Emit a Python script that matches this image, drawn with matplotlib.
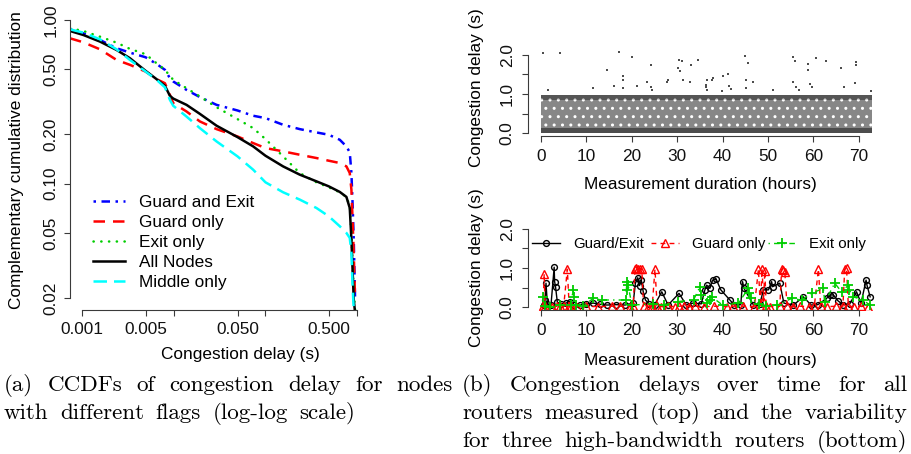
import matplotlib
matplotlib.use("Agg")
import matplotlib.pyplot as plt

plt.rcParams['font.family'] = ['Liberation Sans', 'DejaVu Sans']
plt.rcParams['hatch.linewidth'] = 1.0

# ---------------- data: (a) CCDFs, log-log ----------------
ccdf_delay = [0.000733, 0.001025, 0.00156, 0.00237, 0.00332, 0.00492, 0.00649, 0.00801, 0.00908, 0.00988,
              0.0138, 0.0193, 0.0294, 0.0498, 0.0739, 0.1008, 0.157, 0.239, 0.364, 0.496,
              0.655, 0.774, 0.842, 0.878, 0.901, 0.931, 0.963]
ccdf_guard_exit = [0.877, 0.829, 0.755, 0.672, 0.632, 0.592, 0.539, 0.496, 0.441, 0.421,
                   0.374, 0.338, 0.303, 0.280, 0.260, 0.2515, 0.229, 0.2154, 0.2056, 0.199,
                   0.1854, 0.1689, 0.1553, 0.1161, 0.0799, 0.0456, 0.0196]
ccdf_guard_only = [0.773, 0.731, 0.662, 0.570, 0.532, 0.484, 0.435, 0.411, 0.349, 0.310,
                   0.276, 0.240, 0.2154, 0.1943, 0.1770, 0.1650, 0.1575, 0.1502, 0.1434, 0.1381,
                   0.1337, 0.1275, 0.1161, 0.0919, 0.0632, 0.0378, 0.0196]
ccdf_exit_only = [0.890, 0.857, 0.791, 0.727, 0.666, 0.618, 0.544, 0.496, 0.455, 0.431,
                  0.383, 0.341, 0.293, 0.248, 0.2185, 0.1872, 0.1468, 0.1161, 0.1019, 0.0950,
                  0.0886, 0.0830, 0.0727, 0.0500, 0.0344, 0.0215, 0.0170]
ccdf_all_nodes = [0.857, 0.810, 0.738, 0.656, 0.584, 0.489, 0.435, 0.396, 0.344, 0.331,
                  0.303, 0.267, 0.226, 0.1925, 0.1689, 0.1481, 0.1275, 0.1135, 0.1033, 0.0963,
                  0.0890, 0.0830, 0.0710, 0.0456, 0.0313, 0.0196, 0.0163]
ccdf_middle_only = [0.877, 0.837, 0.762, 0.662, 0.570, 0.484, 0.431, 0.388, 0.325, 0.299,
                    0.257, 0.2185, 0.1811, 0.1468, 0.1217, 0.1019, 0.0886, 0.0799, 0.0710, 0.0632,
                    0.0549, 0.0500, 0.0466, 0.0378, 0.0248, 0.0170, 0.0148]

a_xticks = [0.001, 0.005, 0.01, 0.05, 0.1, 0.5, 1.0]
a_xticklabels = ['0.001', '0.005', '', '0.050', '', '0.500', '']
a_yticks = [0.02, 0.05, 0.1, 0.2, 0.5, 1.0]
a_yticklabels = ['0.02', '0.05', '0.10', '0.20', '0.50', '1.00']

# ---------------- data: (b, top) all routers over time ----------------
band_hours = [0.0, 72.8]
band_solid_top = 0.12      # nearly solid strip of samples close to zero
band_dense_low = 0.84      # dense strip just below 1 s
band_dense_high = 0.97
outlier_hours = [0.37, 4.18, 1.47, 11.52, 14.60, 16.14, 17.09, 18.12, 18.12, 18.12,
                 20.10, 21.06, 23.26, 24.14, 24.21, 24.36, 27.66, 28.03, 30.23, 30.45,
                 30.59, 30.96, 31.33, 32.80, 32.94, 34.63, 36.32, 36.39, 36.46, 36.46,
                 37.56, 37.93, 39.77, 40.13, 41.23, 41.45, 41.75, 44.90, 45.12, 45.12,
                 45.63, 46.74, 51.14, 55.54, 55.91, 55.54, 56.27, 56.79, 58.84, 58.84,
                 59.21, 59.79, 60.68, 62.73, 66.18, 66.76, 69.11, 69.33, 69.33, 72.63]
outlier_delay = [2.05, 2.05, 1.11, 1.15, 1.61, 1.21, 2.07, 1.45, 1.37, 1.15,
                 1.94, 1.21, 1.32, 1.75, 1.18, 1.09, 1.32, 1.35, 1.67, 1.88,
                 1.58, 1.84, 1.37, 1.30, 1.75, 1.88, 1.18, 1.24, 1.35, 1.11,
                 1.37, 1.40, 1.07, 1.45, 1.52, 1.21, 1.13, 1.98, 1.35, 1.15,
                 1.79, 1.32, 1.09, 1.95, 1.84, 1.32, 1.18, 1.09, 1.78, 1.62,
                 1.26, 1.18, 1.92, 1.84, 1.67, 1.18, 1.28, 1.81, 1.75, 1.07]

# ---------------- data: (b, bottom) three high-bandwidth routers ----------------
ge_hours = [0.6, 0.9, 1.1, 1.4, 2.2, 2.9, 3.0, 3.2, 3.6, 4.5,
            5.5, 6.4, 7.2, 8.5, 10.0, 11.5, 13.0, 14.5, 16.5, 18.5,
            20.3, 20.8, 21.3, 21.7, 22.1, 22.5, 23.0, 23.8, 25.0, 26.6,
            28.0, 30.4, 32.0, 33.5, 35.3, 36.1, 36.5, 37.2, 37.8, 38.6,
            39.6, 41.6, 42.6, 44.0, 44.4, 44.7, 46.8, 48.2, 49.0, 50.1,
            50.8, 51.0, 52.6, 53.5, 55.6, 57.8, 59.5, 61.0, 62.9, 63.6,
            64.4, 65.4, 66.5, 68.0, 69.5, 70.5, 71.6, 71.8, 72.5]
ge_delay = [0.05, 0.18, 0.61, 0.08, 0.05, 1.02, 0.65, 0.52, 0.12, 0.08,
            0.10, 0.14, 0.06, 0.05, 0.08, 0.10, 0.07, 0.05, 0.06, 0.05,
            0.10, 0.61, 0.75, 0.55, 0.69, 0.40, 0.18, 0.08, 0.05, 0.39,
            0.05, 0.35, 0.05, 0.10, 0.08, 0.44, 0.56, 0.48, 0.69, 0.71,
            0.44, 0.18, 0.05, 0.06, 0.65, 0.48, 0.05, 0.08, 0.44, 0.44,
            0.65, 0.52, 0.61, 0.10, 0.05, 0.26, 0.05, 0.06, 0.22, 0.31,
            0.31, 0.16, 0.06, 0.08, 0.39, 0.10, 0.69, 0.56, 0.26]
go_hours = [0.5, 0.7, 0.9, 2.5, 3.5, 4.2, 5.0, 5.8, 6.2, 6.6,
            8.0, 10.0, 12.5, 15.6, 17.4, 19.6, 20.3, 20.7, 21.0, 21.4,
            21.8, 22.2, 22.6, 23.5, 24.5, 25.1, 25.6, 26.5, 28.0, 29.5,
            30.5, 31.5, 32.5, 34.0, 36.0, 38.0, 41.0, 42.4, 44.6, 47.0,
            47.9, 48.3, 48.7, 49.0, 49.3, 49.6, 50.5, 52.6, 53.0, 53.4,
            53.7, 54.2, 55.5, 57.0, 59.0, 60.2, 61.1, 61.6, 63.0, 65.0,
            66.5, 66.9, 67.3, 67.7, 69.0, 70.5, 72.0]
go_delay = [0.02, 0.85, 0.02, 0.01, 0.02, 0.03, 0.02, 0.97, 0.03, 0.02,
            0.01, 0.02, 0.01, 0.02, 0.02, 0.01, 0.03, 0.97, 0.99, 0.97,
            0.98, 0.97, 0.02, 0.01, 0.02, 0.97, 0.02, 0.01, 0.02, 0.01,
            0.02, 0.03, 0.01, 0.02, 0.01, 0.02, 0.01, 0.02, 0.02, 0.01,
            0.97, 0.02, 0.98, 0.15, 0.92, 0.02, 0.01, 0.02, 0.97, 0.95,
            0.90, 0.02, 0.01, 0.02, 0.01, 0.02, 0.97, 0.02, 0.01, 0.02,
            0.02, 0.98, 0.99, 0.02, 0.01, 0.02, 0.01]
eo_hours = [0.5, 0.8, 2.0, 4.2, 6.5, 7.1, 7.2, 7.6, 9.3, 11.5,
            13.4, 18.7, 18.9, 19.0, 19.2, 20.0, 24.7, 27.0, 30.2, 33.6,
            35.0, 35.3, 36.5, 37.2, 37.6, 40.0, 43.5, 45.7, 45.9, 46.3,
            48.0, 49.5, 52.0, 55.2, 57.4, 59.6, 62.2, 62.5, 64.7, 66.2,
            67.7, 67.9, 68.8, 71.0, 72.4]
eo_delay = [0.26, 0.02, 0.01, 0.05, 0.04, 0.44, 0.26, 0.05, 0.03, 0.22,
            0.18, 0.18, 0.65, 0.44, 0.56, 0.05, 0.08, 0.05, 0.14, 0.18,
            0.52, 0.31, 0.10, 0.18, 0.26, 0.05, 0.10, 0.48, 0.35, 0.22,
            0.08, 0.03, 0.05, 0.22, 0.18, 0.35, 0.48, 0.12, 0.61, 0.39,
            0.56, 0.44, 0.26, 0.18, 0.05]

hour_ticks = [0, 10, 20, 30, 40, 50, 60, 70]
delay_ticks = [0.0, 0.5, 1.0, 1.5, 2.0]
delay_ticklabels = ['0.0', '', '1.0', '', '2.0']

caption_a = ["(a) CCDFs of congestion delay for nodes",
             "with different flags (log-log scale)"]
caption_b = ["(b) Congestion delays over time for all",
             "routers measured (top) and the variability",
             "for three high-bandwidth routers (bottom)"]

# ---------------- figure ----------------
W, H, DPI = 912, 454, 100
fig = plt.figure(figsize=(W / DPI, H / DPI), dpi=DPI)
FS = 12.4
LEG_B_FS = 10.8
AX_COL = '#3a3a3a'


def fx(x):
    return x / W


def fy(y):
    return 1 - y / H


def add_px_axes(x0, y0, x1, y1):
    return fig.add_axes([fx(x0), fy(y1), (x1 - x0) / W, (y1 - y0) / H])


def r_style(ax, xbounds, ybounds, pad):
    for s in ['top', 'right']:
        ax.spines[s].set_visible(False)
    ax.spines['left'].set_bounds(*ybounds)
    ax.spines['bottom'].set_bounds(*xbounds)
    for s in ['left', 'bottom']:
        ax.spines[s].set_color(AX_COL)
        ax.spines[s].set_linewidth(0.8)
    ax.minorticks_off()
    ax.tick_params(direction='out', length=4.5, width=0.8, color=AX_COL,
                   labelsize=FS, pad=pad, labelcolor='#111111')
    ax.tick_params(axis='y', labelrotation=90)
    for lab in ax.get_yticklabels():
        lab.set_va('center')


# ----- (a) -----
axA = add_px_axes(70, 15, 360, 310)
axA.set_xscale('log')
axA.set_yscale('log')
axA.set_xlim(0.000733, 1.09)
axA.set_ylim(0.0169, 1.073)
lw = 1.8
axA.plot(ccdf_delay, ccdf_guard_exit, color='#0000ff', lw=lw, dashes=(1.0, 2.2, 3.4, 2.2),
         label='Guard and Exit')
axA.plot(ccdf_delay, ccdf_guard_only, color='#ff0000', lw=lw, dashes=(4.6, 3.2),
         label='Guard only')
axA.plot(ccdf_delay, ccdf_exit_only, color='#00cd00', lw=lw, dashes=(0.1, 3.0),
         dash_capstyle='round', label='Exit only')
axA.plot(ccdf_delay, ccdf_all_nodes, color='black', lw=lw, label='All Nodes')
axA.plot(ccdf_delay, ccdf_middle_only, color='#00ffff', lw=lw, dashes=(5.4, 2.8),
         label='Middle only')
axA.set_xticks(a_xticks, a_xticklabels)
axA.set_yticks(a_yticks, a_yticklabels)
r_style(axA, (0.001, 1.0), (0.02, 1.0), pad=4)
axA.legend(loc='upper left', bbox_to_anchor=(fx(93), fy(195)), bbox_transform=fig.transFigure,
           frameon=False, fontsize=FS, handlelength=1.85, handletextpad=0.8,
           labelspacing=0.29, borderpad=0, borderaxespad=0)
fig.text(fx(17), fy(160), 'Complementary cumulative distribution', rotation=90,
         ha='center', va='center', fontsize=FS)
fig.text(fx(240), fy(355), 'Congestion delay (s)', ha='center', va='center', fontsize=FS)

# ----- (b) top -----
hx0 = 541 - 2.9 * 4.54
hx1 = 541 + 75.7 * 4.54
axT = add_px_axes(hx0, 133 - 2.15 * 39, hx1, 133 + 0.083 * 39)
axT.set_xlim(-2.9, 75.7)
axT.set_ylim(-0.083, 2.15)
pt_col = '#4d4d4d'
axT.fill_between(band_hours, band_dense_low, band_dense_high, facecolor='#555555',
                 edgecolor='#d0d0d0', hatch='..', linewidth=0)
axT.fill_between(band_hours, band_solid_top, band_dense_low, facecolor='#878787',
                 edgecolor='white', hatch='..', linewidth=0)
axT.fill_between(band_hours, 0.0, band_solid_top, facecolor=pt_col, linewidth=0)
axT.plot(outlier_hours, outlier_delay, 's', color=pt_col, ms=1.7, mew=0)
axT.set_xticks(hour_ticks)
axT.set_yticks(delay_ticks, delay_ticklabels)
r_style(axT, (0, 70), (0, 2.0), pad=5)
fig.text(fx(477), fy(88), 'Congestion delay (s)', rotation=90, ha='center', va='center',
         fontsize=FS)
fig.text(fx(700), fy(185), 'Measurement duration (hours)', ha='center', va='center',
         fontsize=FS)

# ----- (b) bottom -----
axB = add_px_axes(hx0, 307 - 2.08 * 39, hx1, 307 + 0.08 * 39)
axB.set_xlim(-2.9, 75.7)
axB.set_ylim(-0.08, 2.08)
l_ge, = axB.plot(ge_hours, ge_delay, '-', color='black', lw=1.0, marker='o', ms=4.2,
                 mfc='none', mew=1.0, label='Guard/Exit')
l_go, = axB.plot(go_hours, go_delay, color='#ff0000', lw=1.0, dashes=(3.5, 3), marker='^',
                 ms=5.5, mfc='none', mew=1.0, label='Guard only')
l_eo, = axB.plot(eo_hours, eo_delay, color='#00cd00', lw=1.0, dashes=(1, 3, 4, 3), marker='+',
                 ms=7, mew=1.3, label='Exit only')
axB.set_xticks(hour_ticks)
axB.set_yticks(delay_ticks, delay_ticklabels)
r_style(axB, (0, 70), (0, 2.0), pad=5)
# R-style horizontal legend with equal-width columns
for i, (handle, left_px) in enumerate([(l_ge, 532), (l_go, 651), (l_eo, 768)]):
    leg = axB.legend(handles=[handle], loc='center left',
                     bbox_to_anchor=(fx(left_px), fy(244)), bbox_transform=fig.transFigure,
                     frameon=False, fontsize=LEG_B_FS, handlelength=1.87, handletextpad=0.87,
                     borderpad=0, borderaxespad=0, numpoints=1)
    if i < 2:
        axB.add_artist(leg)
fig.text(fx(477), fy(268), 'Congestion delay (s)', rotation=90, ha='center', va='center',
         fontsize=FS)
fig.text(fx(700), fy(360), 'Measurement duration (hours)', ha='center', va='center',
         fontsize=FS)

# ----- captions (justified, Computer Modern) -----
CAP_FS = 16.6
renderer = fig.canvas.get_renderer()


def caption_line(text, x0, x1, ybase, justify=True):
    words = text.split(' ')
    objs = [fig.text(fx(x0), fy(ybase), w, fontsize=CAP_FS, family='cmr10',
                     ha='left', va='baseline') for w in words]
    widths = [o.get_window_extent(renderer).width for o in objs]
    if justify and len(words) > 1:
        gap = (x1 - x0 - sum(widths)) / (len(words) - 1)
    else:
        gap = CAP_FS * DPI / 72 * 0.5
    x = x0
    for o, wdt in zip(objs, widths):
        o.set_x(fx(x))
        x += wdt + gap


caption_line(caption_a[0], 4, 453, 391, True)
caption_line(caption_a[1], 4, 453, 419, False)
caption_line(caption_b[0], 462, 907, 391, True)
caption_line(caption_b[1], 462, 907, 419, True)
caption_line(caption_b[2], 462, 907, 447, True)

fig.savefig('out.png', dpi=DPI)
